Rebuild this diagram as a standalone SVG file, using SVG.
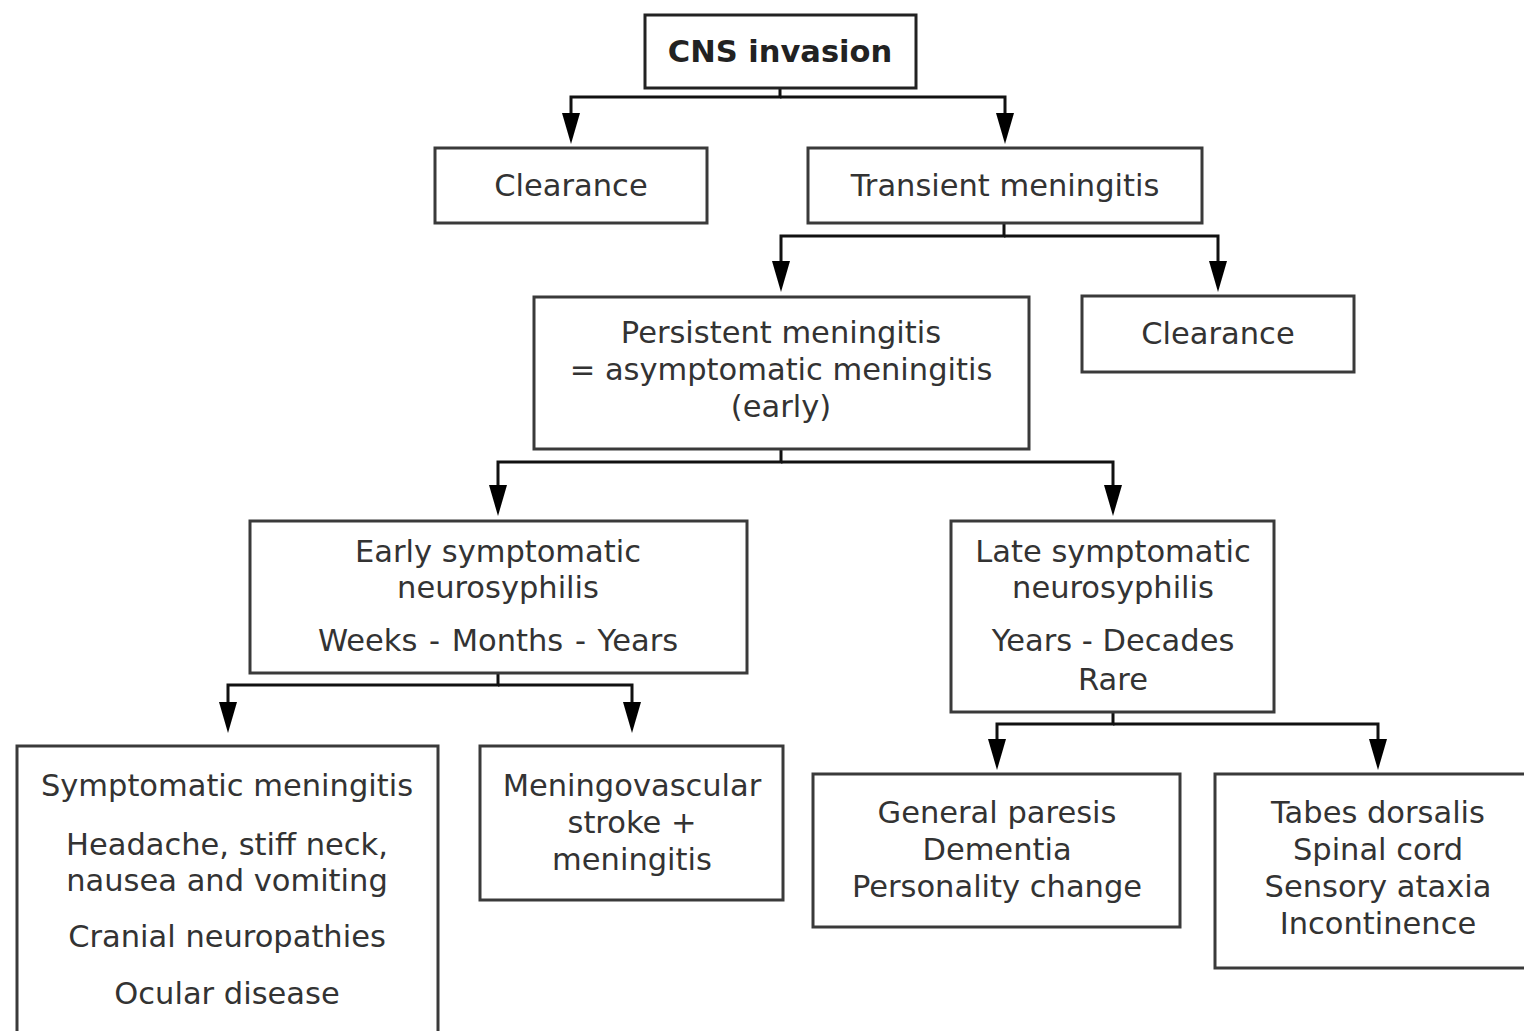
<svg xmlns="http://www.w3.org/2000/svg" width="1524" height="1031" viewBox="0 0 1524 1031">
<style>
.box{fill:#fff;stroke:#3a3a3a;stroke-width:3}
.t{font-family:"DejaVu Sans","Verdana",sans-serif;font-size:30.5px;fill:#333;text-anchor:middle}
.b{font-weight:bold;fill:#222}
.c{fill:none;stroke:#111;stroke-width:3}
</style>
<defs>
<marker id="ah" markerUnits="userSpaceOnUse" viewBox="0 0 31 18" markerWidth="31" markerHeight="18" refX="2" refY="9" orient="auto">
<path d="M0,0 L31,9 L0,18 z" fill="#000"/>
</marker>
</defs>
<rect x="0" y="0" width="1524" height="1031" fill="#fff"/>
<g id="connectors">
<path class="c" d="M780,88 V97 H571 V115" marker-end="url(#ah)"/>
<path class="c" d="M780,97 H1005 V115" marker-end="url(#ah)"/>
<path class="c" d="M1004,223 V236 H781 V263" marker-end="url(#ah)"/>
<path class="c" d="M1004,236 H1218 V263" marker-end="url(#ah)"/>
<path class="c" d="M781,449 V462 H498 V487" marker-end="url(#ah)"/>
<path class="c" d="M781,462 H1113 V487" marker-end="url(#ah)"/>
<path class="c" d="M498,673 V685 H228 V704" marker-end="url(#ah)"/>
<path class="c" d="M498,685 H632 V704" marker-end="url(#ah)"/>
<path class="c" d="M1113,712 V724 H997 V741" marker-end="url(#ah)"/>
<path class="c" d="M1113,724 H1378 V741" marker-end="url(#ah)"/>
</g>
<g id="n-cns">
<rect class="box" x="645" y="15" width="271" height="73" style="stroke:#222"/>
<text class="t b" x="780" y="62">CNS invasion</text>
</g>
<g id="n-clear1">
<rect class="box" x="435" y="148" width="272" height="75"/>
<text class="t" x="571" y="196">Clearance</text>
</g>
<g id="n-transient">
<rect class="box" x="808" y="148" width="394" height="75"/>
<text class="t" x="1005" y="196">Transient meningitis</text>
</g>
<g id="n-persistent">
<rect class="box" x="534" y="297" width="495" height="152"/>
<text class="t" x="781" y="343">Persistent meningitis</text>
<text class="t" x="781" y="380">= asymptomatic meningitis</text>
<text class="t" x="781" y="417">(early)</text>
</g>
<g id="n-clear2">
<rect class="box" x="1082" y="296" width="272" height="76"/>
<text class="t" x="1218" y="344">Clearance</text>
</g>
<g id="n-early">
<rect class="box" x="250" y="521" width="497" height="152"/>
<text class="t" x="498" y="562">Early symptomatic</text>
<text class="t" x="498" y="598">neurosyphilis</text>
<text class="t" x="498" y="651" style="word-spacing:2px">Weeks - Months - Years</text>
</g>
<g id="n-late">
<rect class="box" x="951" y="521" width="323" height="191"/>
<text class="t" x="1113" y="562">Late symptomatic</text>
<text class="t" x="1113" y="598">neurosyphilis</text>
<text class="t" x="1113" y="651">Years - Decades</text>
<text class="t" x="1113" y="690">Rare</text>
</g>
<g id="n-symptomatic">
<rect class="box" x="17" y="746" width="421" height="300"/>
<text class="t" x="227" y="796">Symptomatic meningitis</text>
<text class="t" x="227" y="855">Headache, stiff neck,</text>
<text class="t" x="227" y="891">nausea and vomiting</text>
<text class="t" x="227" y="947">Cranial neuropathies</text>
<text class="t" x="227" y="1004">Ocular disease</text>
</g>
<g id="n-meningovascular">
<rect class="box" x="480" y="746" width="303" height="154"/>
<text class="t" x="632" y="796">Meningovascular</text>
<text class="t" x="632" y="833">stroke +</text>
<text class="t" x="632" y="870">meningitis</text>
</g>
<g id="n-paresis">
<rect class="box" x="813" y="774" width="367" height="153"/>
<text class="t" x="997" y="823">General paresis</text>
<text class="t" x="997" y="860">Dementia</text>
<text class="t" x="997" y="897">Personality change</text>
</g>
<g id="n-tabes">
<rect class="box" x="1215" y="774" width="320" height="194"/>
<text class="t" x="1378" y="823">Tabes dorsalis</text>
<text class="t" x="1378" y="860">Spinal cord</text>
<text class="t" x="1378" y="897">Sensory ataxia</text>
<text class="t" x="1378" y="934">Incontinence</text>
</g>
</svg>
